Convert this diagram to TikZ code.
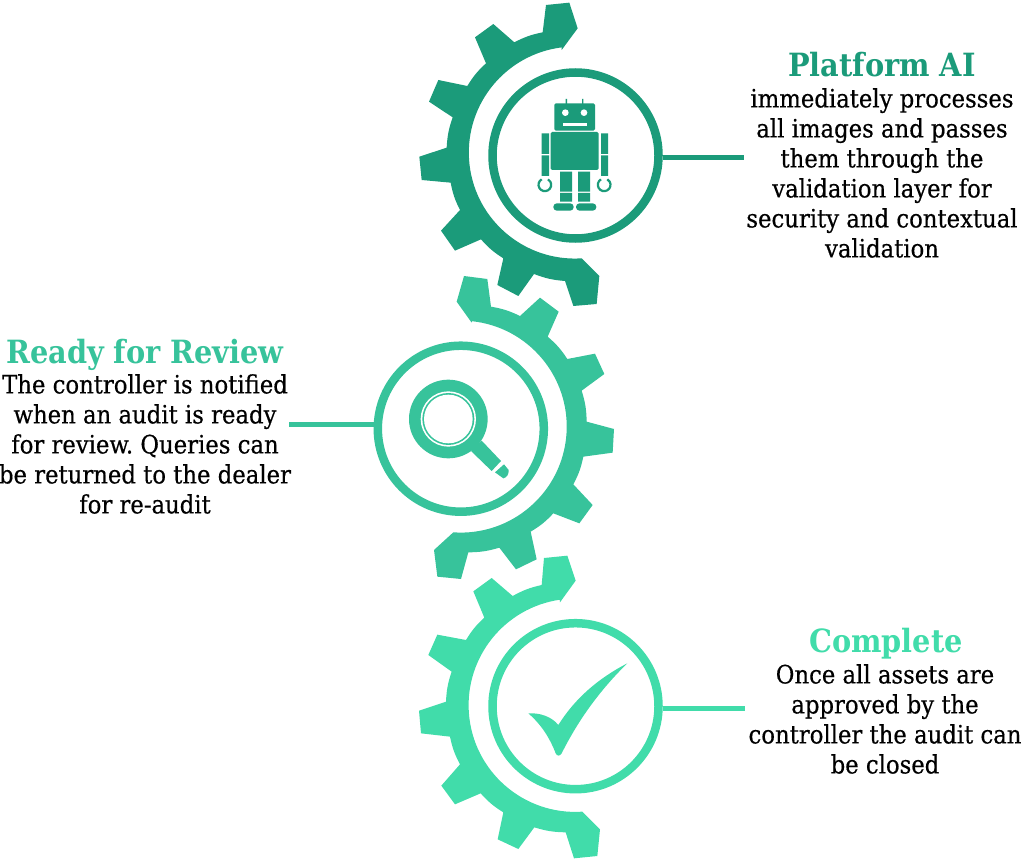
\documentclass[tikz,border=0pt]{standalone}
\usepackage{fontspec}
\setmainfont{DejaVu Serif Condensed}[FakeBold=0.45]
\newfontfamily\headfont{DejaVu Serif Condensed Bold}
\definecolor{gearA}{RGB}{27,155,122}
\definecolor{gearB}{RGB}{55,195,155}
\definecolor{gearC}{RGB}{65,220,170}
\frenchspacing
\tikzset{
  zoomed/.style={x=0.33333pt,y=-0.33333pt},
  vb/.style={bend right=8},
  vc/.style={bend left=8},
  ring/.style={circle,draw=#1,line width=8.5pt,minimum size=166pt,inner sep=0pt,fill=white},
  conn/.style={draw=#1,line width=5pt},
  bodytext/.style={align=center,anchor=north,inner sep=0pt,text=black,font=\fontsize{25.3}{30}\selectfont},
  headtext/.style={anchor=base,inner sep=0pt,text=#1,font=\headfont\fontsize{32}{34}\selectfont},
}
\begin{document}
\begin{tikzpicture}[x=1pt,y=-1pt]
\useasboundingbox (0,0) rectangle (1024,859);
% gear 1
\begin{scope}[zoomed,shift={(1230,0)}]
\fill[gearA] (455,150) -- (503,85) -- (478,8) -- (408,15) -- (398,97) to[vb] (313,127)
 -- (250,72) -- (195,112) -- (228,190) to[vb] (172,258)
 -- (85,240) -- (57,305) -- (128,352) to[vb] (110,443)
 -- (28,470) -- (35,540) -- (122,548) to[vb] (150,630)
 -- (93,692) -- (135,752) -- (213,718) to[vb] (280,775)
 -- (262,855) -- (325,888) -- (372,822) to[vb] (465,843)
 -- (490,918) -- (560,912) -- (568,828) -- (515,775)
 arc[start angle=86.3,end angle=262.8,radius=318] -- cycle;
\end{scope}
% gear 2
\begin{scope}[zoomed,shift={(840,825)}]
\fill[gearB] (575,143) -- (530,80) -- (552,3) -- (622,12) -- (633,95) to[vc] (720,123)
 -- (780,68) -- (836,110) -- (803,185) to[vc] (862,252)
 -- (945,236) -- (973,297) -- (905,347) to[vc] (920,440)
 -- (1002,462) -- (998,533) -- (910,545) to[vc] (880,628)
 -- (938,690) -- (898,745) -- (820,715) to[vc] (752,770)
 -- (770,853) -- (708,883) -- (658,818) to[vc] (565,832)
 -- (543,912) -- (472,905) -- (462,825) -- (520,772)
 arc[start angle=94,end angle=-84,radius=318] -- cycle;
\end{scope}
% gear 3
\begin{scope}[zoomed,shift={(1230,1650)}]
\fill[gearC] (450,157) -- (497,92) -- (472,17) -- (402,24) -- (395,105) to[vb] (308,138)
 -- (245,84) -- (190,124) -- (223,203) to[vb] (168,270)
 -- (82,254) -- (55,315) -- (125,365) to[vb] (108,455)
 -- (27,482) -- (33,550) -- (120,560) to[vb] (150,643)
 -- (94,707) -- (135,763) -- (212,730) to[vb] (280,787)
 -- (263,868) -- (325,897) -- (373,832) to[vb] (467,847)
 -- (492,925) -- (562,918) -- (570,838) -- (517,785)
 arc[start angle=86.2,end angle=261.6,radius=320] -- cycle;
\end{scope}
% rings and connectors
\node[ring=gearA] (ringA) at (575.5,155.5) {};
\node[ring=gearB] (ringB) at (460.8,428.7) {};
\node[ring=gearC] (ringC) at (575.5,706.2) {};
\coordinate (endA) at (744,157.3);
\coordinate (endB) at (288.5,424.3);
\coordinate (endC) at (745,708);
\draw[conn=gearA] (ringA.east |- endA) -- (endA);
\draw[conn=gearB] (ringB.west |- endB) -- (endB);
\draw[conn=gearC] (ringC.east |- endC) -- (endC);
% robot
\begin{scope}[zoomed,shift={(1575,270)}]
\fill[gearA,rounded corners=1.5pt] (88,40) rectangle (210,122);
\fill[gearA] (122,27) rectangle (126,42) (171,27) rectangle (175,42);
\fill[white] (121,68) circle[radius=10] (177,68) circle[radius=10];
\fill[white] (113,100) rectangle (185,107);
\fill[gearA,rounded corners=1.5pt] (77,126) rectangle (221,240);
\fill[gearA] (50,130) rectangle (72,192) (50,196) rectangle (72,258)
  (228,130) rectangle (249,192) (228,196) rectangle (249,258);
\draw[gearA,line width=2.2pt] (50,268) arc[start angle=-120,end angle=-420,radius=19];
\draw[gearA,line width=2.2pt] (228,268) arc[start angle=-120,end angle=-420,radius=19];
\fill[gearA] (105,245) rectangle (141,305) (159,245) rectangle (195,305)
  (105,309) rectangle (141,335) (159,309) rectangle (195,335);
\fill[gearA,rounded corners=3.5pt] (85,340) rectangle (146,362) (153,340) rectangle (214,362);
\end{scope}
% magnifier
\begin{scope}[zoomed,shift={(1200,1125)}]
\fill[gearB] (145,132) circle[radius=118];
\fill[white] (145,132) circle[radius=83];
\fill[gearB] (145,132) circle[radius=78];
\fill[white] (145,132) circle[radius=73];
\fill[gearB] (245,197) -- (303,258) -- (275,288) -- (213,228) -- cycle;
\fill[gearB] (312,268) -- (326,285) .. controls (327,298) and (320,308) .. (310,310) -- (285,292) -- cycle;
\end{scope}
% check mark
\begin{scope}[zoomed,shift={(1230,1650)}]
\fill[gearC] (355,490) .. controls (390,488) and (425,500) .. (445,525)
  .. controls (495,445) and (565,385) .. (652,340)
  .. controls (570,420) and (505,510) .. (455,610)
  .. controls (450,619) and (441,619) .. (437,610)
  .. controls (420,565) and (395,525) .. (355,490) -- cycle;
\end{scope}
% texts
\node[headtext=gearA] (headA) at (882,76) {Platform AI};
\node[bodytext] (bodyA) at (882,88) {immediately processes\\all images and passes\\them through the\\validation layer for\\security and contextual\\validation};
\node[headtext=gearB] (headB) at (145,363) {Ready for Review};
\node[bodytext] (bodyB) at (145,374) {The controller is notified\\when an audit is ready\\for review. Queries can\\be returned to the dealer\\for re-audit};
\node[headtext=gearC] (headC) at (886,652) {Complete};
\node[bodytext] (bodyC) at (885,664) {Once all assets are\\approved by the\\controller the audit can\\be closed};
\end{tikzpicture}
\end{document}
